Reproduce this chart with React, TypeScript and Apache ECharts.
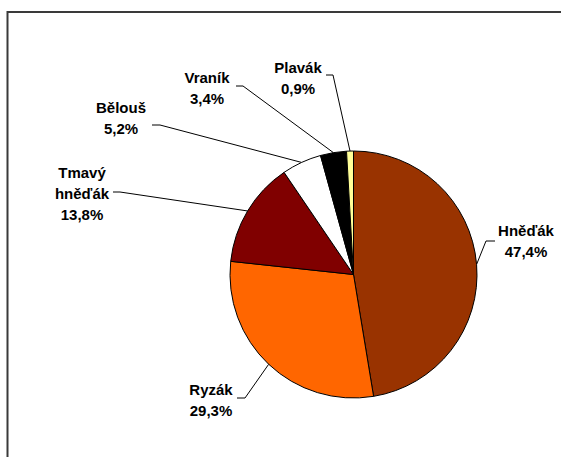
import React, { useEffect, useRef } from "react";
import * as echarts from "echarts";

const categories = ["Hněďák", "Ryzák", "Tmavý hněďák", "Bělouš", "Vraník", "Plavák"];
const shares = [47.4, 29.3, 13.8, 5.2, 3.4, 0.9];
const colors = ["#993300", "#FF6600", "#800000", "#FFFFFF", "#000000", "#FFFF99"];

// label block centers and leader-line elbow/end points (layout styling)
const labelPlacement = [
  { x: 526, y: 241, elbow: [486, 241], end: [495, 241] },
  { x: 211, y: 400, elbow: [245, 398], end: [237, 398] },
  { x: 82, y: 193, elbow: [120, 192], end: [113, 192] },
  { x: 121, y: 118, elbow: [160, 125], end: [152, 125] },
  { x: 207, y: 88, elbow: [243, 86], end: [236, 86] },
  { x: 298, y: 78, elbow: [333, 75], end: [326, 75] },
];

export default function App() {
  const ref = useRef<HTMLDivElement>(null);
  useEffect(() => {
    document.body.style.margin = "0";
    const chart = echarts.init(ref.current!, null, { renderer: "svg" });
    const data = categories.map((name, i) => ({
      name,
      value: shares[i],
      itemStyle: { color: colors[i] },
    }));
    chart.setOption({
      animation: false,
      backgroundColor: "#ffffff",
      graphic: [
        {
          type: "rect",
          shape: { x: 7.5, y: 12, width: 700, height: 600 },
          style: { fill: "none", stroke: "#3a3a3a", lineWidth: 2 },
          silent: true,
        },
      ],
      series: [
        {
          type: "pie",
          center: [353.5, 274.5],
          radius: 123.5,
          startAngle: 90,
          clockwise: true,
          avoidLabelOverlap: false,
          data,
          itemStyle: { borderColor: "#000000", borderWidth: 1 },
          label: {
            show: true,
            position: "outside",
            formatter: (p: any) =>
              p.name.replace(" ", "\n") + "\n" + Number(p.value).toFixed(1).replace(".", ",") + "%",
            fontFamily: "Liberation Sans, Arial, sans-serif",
            fontWeight: "bold",
            fontSize: 15,
            lineHeight: 21,
            color: "#000000",
            align: "center",
          },
          labelLine: {
            show: true,
            smooth: false,
            lineStyle: { color: "#000000", width: 1 },
          },
          labelLayout: (params: any) => {
            const lp = labelPlacement[params.dataIndex];
            const start = params.labelLinePoints ? params.labelLinePoints[0] : lp.elbow;
            return {
              x: lp.x,
              y: lp.y,
              align: "center",
              verticalAlign: "middle",
              hideOverlap: false,
              moveOverlap: undefined,
              labelLinePoints: [start, lp.elbow, lp.end],
            };
          },
          emphasis: { disabled: true },
        },
      ],
    });
    return () => chart.dispose();
  }, []);
  return (
    <div
      ref={ref}
      style={{ position: "fixed", left: 0, top: 0, width: 561, height: 457 }}
    />
  );
}
